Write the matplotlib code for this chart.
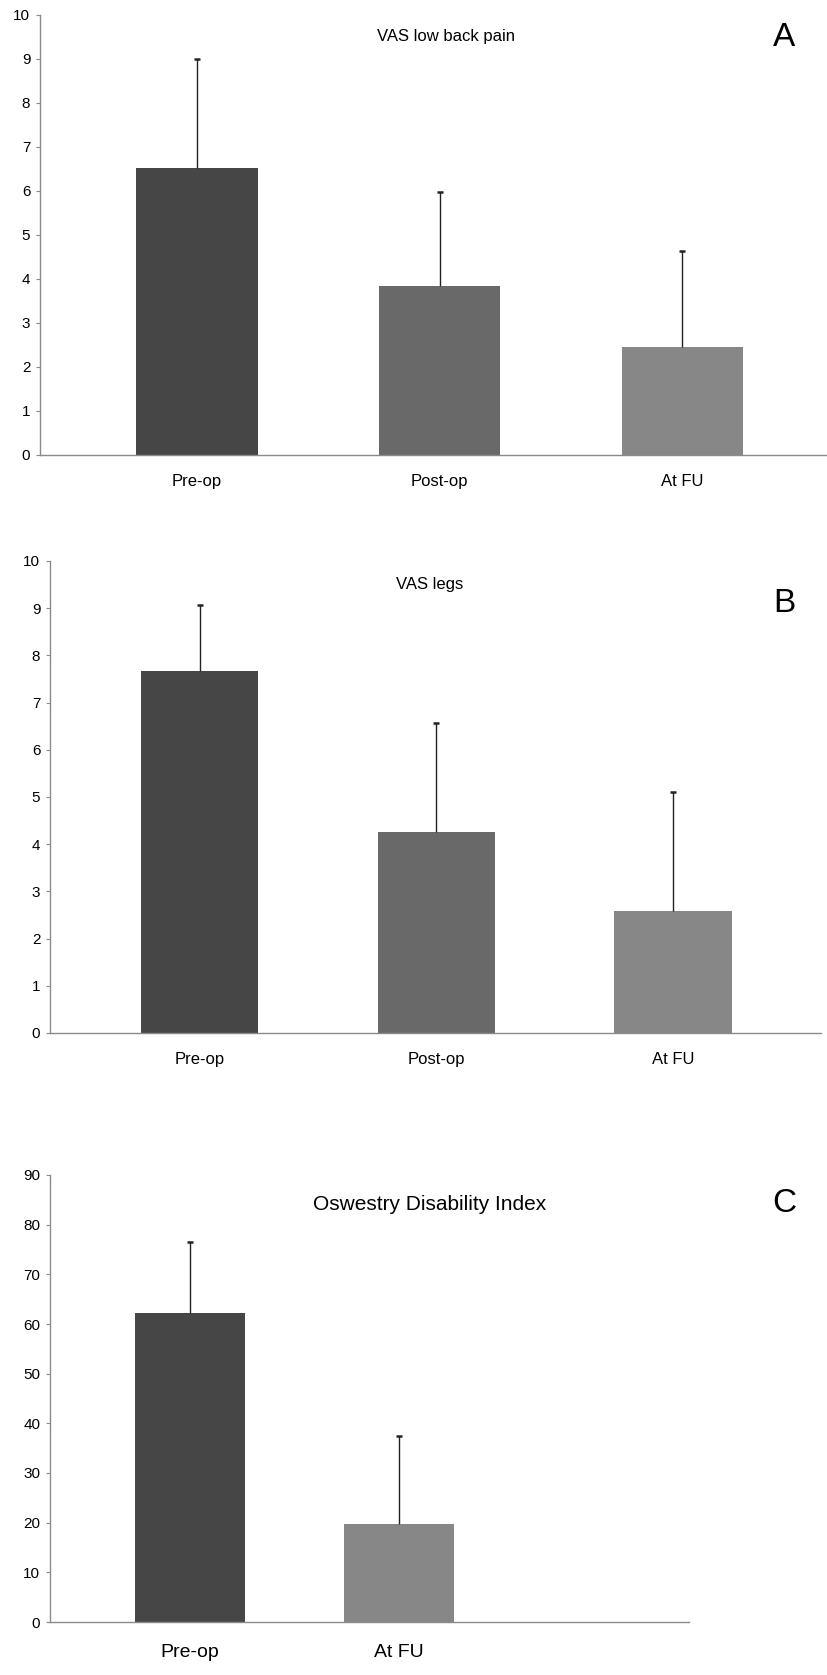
import matplotlib
matplotlib.use("Agg")
import matplotlib.pyplot as plt
import numpy as np

# ---- data ----
cats_ab = ["Pre-op", "Post-op", "At FU"]
vas_back_mean = [6.52, 3.84, 2.45]
vas_back_upper = [8.99, 5.97, 4.64]
vas_legs_mean = [7.67, 4.26, 2.59]
vas_legs_upper = [9.07, 6.56, 5.10]
cats_c = ["Pre-op", "At FU"]
odi_mean = [62.3, 19.8]
odi_upper = [76.6, 37.4]
colors_ab = ["#464646", "#696969", "#878787"]
colors_c = ["#464646", "#878787"]

plt.rcParams['font.family'] = ['Liberation Sans Narrow', 'Liberation Sans', 'DejaVu Sans']

W, H = 828, 1675
fig = plt.figure(figsize=(W / 100, H / 100), dpi=100)


def px_axes(l, r, t, b):
    return fig.add_axes([l / W, 1 - b / H, (r - l) / W, (b - t) / H])


def panel(ax, cats, means, uppers, colors, ymax, ystep, xlim, width):
    x = np.arange(len(cats))
    ax.bar(x, means, width=width, color=colors, zorder=2)
    err = np.array(uppers) - np.array(means)
    ax.errorbar(x, means, yerr=[np.zeros(len(x)), err], fmt='none',
                ecolor='#222222', elinewidth=1.0, capsize=0, zorder=3)
    ax.plot(x, uppers, linestyle='none', marker='_', markersize=5,
            markeredgewidth=1.8, color='#222222', zorder=3)
    ax.set_xlim(*xlim)
    ax.set_ylim(0, ymax)
    ax.set_yticks(np.arange(0, ymax + ystep / 2, ystep))
    ax.set_xticks(x)
    ax.set_xticklabels(cats, fontsize=12)
    for s in ["top", "right"]:
        ax.spines[s].set_visible(False)
    for s in ["left", "bottom"]:
        ax.spines[s].set_color("#8a8a8a")
        ax.spines[s].set_linewidth(1.0)
    ax.tick_params(axis='y', length=3, color="#8a8a8a", labelsize=11, pad=4)
    ax.tick_params(axis='x', length=0, pad=14)


# Panel A
axA = px_axes(40, 828, 15, 455)
panel(axA, cats_ab, vas_back_mean, vas_back_upper, colors_ab, 10, 1, (-0.646, 2.6), 0.5)
fig.text(446 / W, 1 - 37 / H, "VAS low back pain", ha='center', va='center', fontsize=12)
fig.text(784 / W, 1 - 37 / H, "A", ha='center', va='center', fontsize=24)

# Panel B
axB = px_axes(50, 821, 561, 1033)
panel(axB, cats_ab, vas_legs_mean, vas_legs_upper, colors_ab, 10, 1, (-0.632, 2.625), 0.495)
fig.text(430 / W, 1 - 585 / H, "VAS legs", ha='center', va='center', fontsize=12)
fig.text(784 / W, 1 - 603 / H, "B", ha='center', va='center', fontsize=24)

# Panel C
axC = px_axes(50, 689, 1175, 1622)
panel(axC, cats_c, odi_mean, odi_upper, colors_c, 90, 10, (-0.666, 2.383), 0.525)
axC.tick_params(axis='x', pad=16, labelsize=14)
fig.text(430 / W, 1 - 1205 / H, "Oswestry Disability Index", ha='center', va='center', fontsize=15)
fig.text(784 / W, 1 - 1203 / H, "C", ha='center', va='center', fontsize=24)

fig.savefig("out.png", dpi=100, facecolor="white")
